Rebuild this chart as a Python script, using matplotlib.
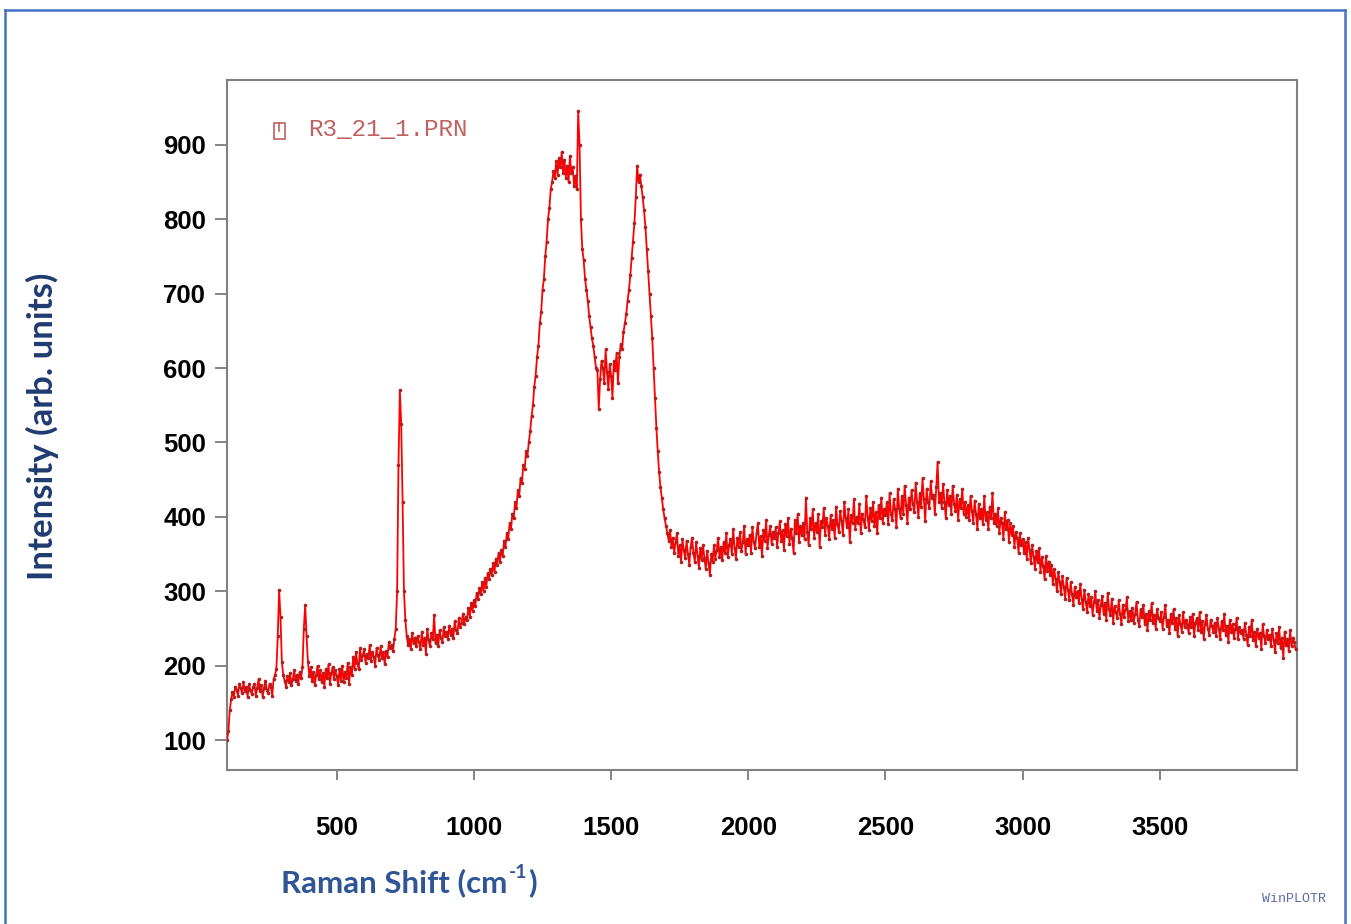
import numpy as np
import matplotlib
matplotlib.use("Agg")
import matplotlib.pyplot as plt
from matplotlib.patches import Rectangle
from matplotlib.lines import Line2D

# Intensity, 5 cm^-1 steps starting at 100 cm^-1
intensity = [
    100, 112, 140, 155, 165, 158, 172, 168, 160, 176, 170, 163, 178, 166, 172, 158, 175, 168, 162, 171,   # 100
    176, 160, 170, 182, 166, 174, 158, 170, 180, 168, 164, 176, 172, 160, 182, 188, 196, 240, 302, 265,   # 200
    205, 188, 180, 172, 186, 178, 190, 174, 182, 194, 180, 188, 176, 192, 184, 198, 250, 282, 240, 205,   # 300
    186, 198, 180, 192, 174, 188, 200, 182, 194, 178, 190, 172, 196, 184, 202, 176, 190, 198, 182, 194,   # 400
    186, 174, 196, 180, 200, 178, 192, 184, 204, 176, 198, 188, 212, 196, 218, 204, 196, 224, 208, 214,   # 500
    222, 204, 216, 210, 228, 206, 218, 212, 200, 224, 214, 208, 226, 210, 218, 202, 220, 212, 232, 224,   # 600
    228, 220, 236, 250, 300, 470, 570, 525, 420, 300, 262, 240, 228, 236, 222, 244, 230, 238, 226, 240,   # 700
    232, 222, 246, 228, 238, 216, 250, 234, 226, 244, 236, 268, 230, 242, 226, 248, 238, 232, 252, 240,   # 800
    246, 236, 254, 242, 250, 238, 260, 248, 244, 264, 252, 258, 270, 256, 266, 262, 278, 266, 284, 274,   # 900
    288, 280, 298, 290, 304, 296, 312, 300, 318, 306, 324, 316, 330, 322, 338, 326, 344, 336, 352, 340,   # 1000
    356, 348, 368, 360, 378, 370, 392, 384, 404, 398, 420, 412, 436, 428, 452, 446, 470, 464, 488, 482,   # 1100
    500, 515, 535, 550, 575, 590, 615, 630, 660, 675, 705, 720, 750, 770, 800, 815, 840, 850, 865, 855,   # 1200
    878, 860, 882, 870, 890, 862, 880, 856, 872, 850, 885, 862, 870, 845, 858, 840, 945, 900, 800, 760,   # 1300
    745, 720, 705, 690, 670, 655, 640, 630, 615, 600, 598, 545, 585, 610, 600, 580, 625, 595, 572, 605,   # 1400
    590, 560, 610, 598, 620, 580, 615, 632, 625, 648, 660, 672, 690, 705, 725, 748, 770, 795, 830, 872,   # 1500
    850, 860, 845, 830, 812, 790, 760, 730, 700, 670, 640, 600, 560, 520, 488, 460, 440, 425, 410, 398,   # 1600
    388, 378, 368, 382, 360, 372, 352, 366, 378, 348, 362, 340, 370, 355, 345, 368, 350, 336, 360, 372,   # 1700
    352, 340, 366, 348, 332, 358, 342, 362, 345, 330, 354, 338, 322, 350, 340, 362, 344, 356, 372, 346,   # 1800
    360, 342, 366, 352, 378, 346, 362, 370, 350, 384, 358, 344, 372, 360, 380, 354, 366, 388, 350, 370,   # 1900
    362, 376, 352, 386, 366, 358, 378, 392, 360, 374, 348, 382, 368, 396, 358, 376, 388, 364, 380, 372,   # 2000
    386, 360, 378, 394, 368, 382, 356, 390, 374, 398, 364, 384, 372, 352, 396, 378, 404, 366, 388, 376,   # 2100
    392, 370, 426, 380, 362, 398, 384, 410, 372, 392, 380, 404, 360, 394, 386, 412, 376, 398, 388, 370,   # 2200
    402, 384, 396, 372, 414, 390, 380, 408, 394, 376, 420, 398, 386, 410, 366, 402, 392, 424, 384, 400,   # 2300
    392, 418, 378, 404, 396, 386, 428, 400, 382, 412, 394, 420, 388, 406, 378, 416, 398, 426, 392, 410,   # 2400
    402, 420, 390, 432, 404, 396, 424, 410, 386, 438, 412, 398, 428, 404, 442, 416, 392, 426, 410, 436,   # 2500
    418, 406, 446, 420, 400, 432, 414, 452, 424, 394, 438, 420, 412, 448, 426, 430, 404, 440, 474, 420,   # 2600
    432, 412, 444, 420, 398, 436, 416, 428, 404, 442, 418, 408, 430, 396, 424, 412, 438, 404, 420, 400,   # 2700
    416, 396, 428, 408, 392, 422, 404, 384, 418, 398, 410, 390, 428, 396, 406, 384, 414, 398, 432, 392,   # 2800
    404, 388, 412, 378, 398, 392, 370, 406, 384, 396, 366, 392, 376, 388, 360, 380, 372, 352, 378, 362,   # 2900
    370, 352, 366, 344, 372, 356, 338, 362, 346, 330, 354, 340, 358, 326, 346, 334, 316, 348, 328, 340,   # 3000
    322, 336, 310, 330, 316, 300, 326, 312, 296, 320, 306, 290, 318, 302, 288, 312, 296, 282, 306, 292,   # 3100
    300, 284, 310, 290, 276, 302, 286, 272, 296, 280, 292, 268, 286, 300, 274, 288, 264, 282, 294, 270,   # 3200
    284, 262, 298, 276, 268, 290, 258, 280, 272, 264, 288, 270, 256, 282, 266, 276, 292, 260, 274, 262,   # 3300
    278, 258, 270, 286, 262, 254, 276, 266, 282, 256, 270, 248, 274, 262, 284, 258, 268, 250, 276, 264,   # 3400
    260, 272, 250, 266, 282, 254, 262, 244, 270, 258, 276, 250, 264, 240, 268, 256, 246, 272, 252, 262,   # 3500
    256, 244, 266, 252, 270, 240, 258, 264, 248, 272, 246, 260, 236, 256, 268, 250, 242, 262, 254, 246,   # 3600
    258, 240, 264, 250, 236, 260, 248, 270, 242, 254, 232, 262, 246, 256, 238, 250, 264, 236, 252, 244,   # 3700
    248, 236, 258, 242, 228, 252, 240, 262, 234, 246, 226, 250, 238, 244, 222, 256, 240, 230, 248, 236,   # 3800
    242, 226, 250, 234, 218, 244, 230, 252, 224, 238, 210, 246, 228, 236, 220, 248, 226, 238, 232, 222,   # 3900
]
raman_shift = np.arange(len(intensity)) * 5 + 100

x_ticks = [500, 1000, 1500, 2000, 2500, 3000, 3500]
y_ticks = [100, 200, 300, 400, 500, 600, 700, 800, 900]
legend_label = "R3_21_1.PRN"

W, H = 1351, 924
fig = plt.figure(figsize=(W / 100, H / 100), dpi=100)
fig.patch.set_facecolor("white")

# blue frame around the figure
border_color = "#4472c4"
for xs, ys in [([5, 5], [10, H]), ([5, 1345], [10, 10]), ([1345, 1345], [10, H])]:
    fig.add_artist(Line2D([v / W for v in xs], [1 - v / H for v in ys],
                          transform=fig.transFigure, color=border_color, lw=1.8))

ax = fig.add_axes([227 / W, 1 - 770 / H, (1297 - 227) / W, (770 - 80) / H])
ax.plot(raman_shift, intensity, color="#ff0000", lw=1.3,
        marker="o", markersize=2.6, markerfacecolor="#b02020",
        markeredgewidth=0, zorder=3)

ax.set_xlim(100, 4000)
ax.set_ylim(60, 987)
ax.set_xticks(x_ticks)
ax.set_yticks(y_ticks)
ax.set_xticklabels([str(v) for v in x_ticks], fontsize=18.5, fontweight="bold", family="Liberation Sans")
ax.set_yticklabels([str(v) for v in y_ticks], fontsize=18.5, fontweight="bold", family="Liberation Sans")
ax.tick_params(axis="x", direction="out", length=7, width=1.2, color="#707070", pad=26)
ax.tick_params(axis="y", direction="out", length=9, width=1.2, color="#707070", pad=6)
for s in ax.spines.values():
    s.set_color("#808080")
    s.set_linewidth(1.5)

# legend entry (WinPLOTR style)
leg_color = "#c06060"
ax.add_patch(Rectangle((0.0435, 0.914), 0.011, 0.024, transform=ax.transAxes,
                       fill=False, edgecolor=leg_color, lw=1.2))
ax.add_artist(Line2D([0.049, 0.049], [0.926, 0.938], transform=ax.transAxes, color=leg_color, lw=1.2))
ax.text(0.076, 0.928, legend_label, transform=ax.transAxes, fontsize=17.5,
        family="Liberation Mono", color=leg_color, va="center", ha="left")

# axis labels
fig.text(42 / W, 1 - 426 / H, "Intensity (arb. units)", rotation=90, fontsize=25,
         fontweight="bold", family="Lato", color="#1f3b70", ha="center", va="center")

xl_color = "#2f5597"
renderer = fig.canvas.get_renderer()
y0 = 1 - 883 / H
t1 = fig.text(0, y0, "Raman Shift (cm", fontsize=22.5, fontweight="bold", family="Lato",
              color=xl_color, ha="left", va="center")
bb1 = t1.get_window_extent(renderer)
t2 = fig.text(0, y0 + 10 / H, "-1", fontsize=14, fontweight="bold", family="Lato",
              color=xl_color, ha="left", va="center")
bb2 = t2.get_window_extent(renderer)
t3 = fig.text(0, y0, ")", fontsize=22.5, fontweight="bold", family="Lato",
              color=xl_color, ha="left", va="center")
bb3 = t3.get_window_extent(renderer)
total = bb1.width + bb2.width + 2 + bb3.width
start = 409 - total / 2
t1.set_x(start / W)
t2.set_x((start + bb1.width + 1) / W)
t3.set_x((start + bb1.width + bb2.width + 2) / W)

fig.text(1262 / W, 1 - 899 / H, "WinPLOTR", fontsize=9.5, family="Liberation Mono",
         color="#5a6aa8", ha="left", va="center")

fig.savefig("out.png", dpi=100, facecolor="white")
